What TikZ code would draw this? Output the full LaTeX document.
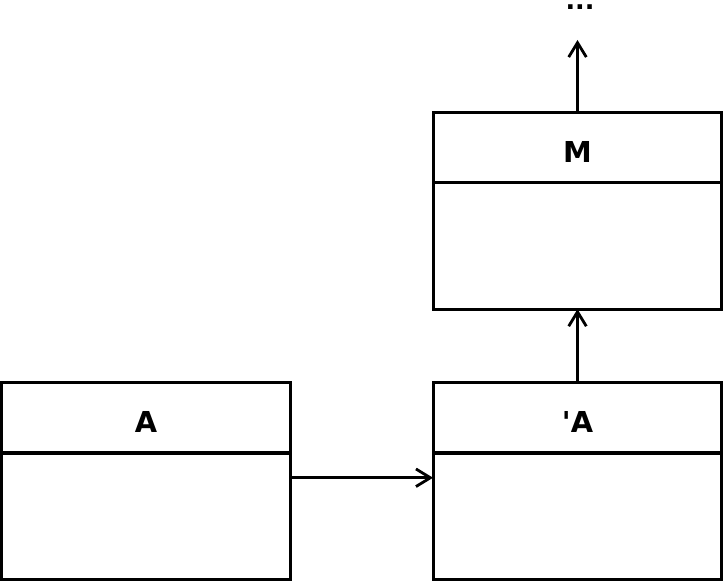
\documentclass[tikz,border=0pt]{standalone}
\usepackage{fontspec}
\newfontfamily\boxfont{DejaVu Sans}
\usetikzlibrary{positioning, arrows.meta}

\tikzset{
	head/.style={draw, line width=2.2pt, outer sep=0pt, minimum width=7.22cm, minimum height=1.76cm, text height=0.75cm, text depth=0cm, font=\boxfont\fontsize{20.5}{24}\selectfont\bfseries},
	body/.style={draw, line width=2.2pt, outer sep=0pt, minimum width=7.22cm, minimum height=3.16cm},
	arr/.style={line width=2pt, -{Straight Barb[length=0.36cm, width=0.44cm, line width=2pt]}}
}

\begin{document}
\begin{tikzpicture}[x=0.025cm, y=-0.025cm]
		\useasboundingbox (0,0) rectangle (724,582);
		
		% A
		\node[head] (A) at (146,417.75) {A};
		\node[body, below=0pt of A] (Abody) {};
		
		% 'A
		\node[head] (A2) at (577.5,417.75) {'A};
		\node[body, below=0pt of A2] (A2body) {};
		
		% M
		\node[head] (M) at (577.5,147.5) {M};
		\node[body, below=0pt of M] (Mbody) {};
		
		% ...
		\coordinate (Mtop) at (577.5,40);
		\node[anchor=base, inner sep=0pt, font=\boxfont\fontsize{18}{24}\selectfont\bfseries] (more) at (580,10) {...};
		
		% arrows
		\draw[arr] ([yshift=-0.62cm]Abody.north east) -- ([yshift=-0.62cm]A2body.north west);
		\draw[arr] (A2.north) -- (Mbody.south);
		\draw[arr] (M.north) -- (Mtop);
\end{tikzpicture}
\end{document}
